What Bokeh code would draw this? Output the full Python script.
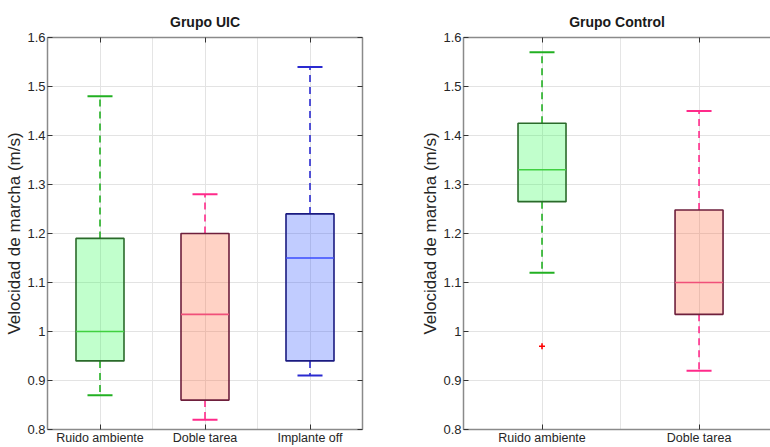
from bokeh.plotting import figure
from bokeh.layouts import row
from bokeh.models import (Range1d, LinearAxis, Grid, FixedTicker, CustomJSTickFormatter,
                          ColumnDataSource, CustomLabelingPolicy)
from bokeh.embed import file_html
from bokeh.resources import INLINE

# ---------------- data ----------------
uic_categories = ["Ruido ambiente", "Doble tarea", "Implante off"]
uic_low = [0.87, 0.82, 0.91]
uic_q1 = [0.94, 0.86, 0.94]
uic_median = [1.00, 1.035, 1.15]
uic_q3 = [1.19, 1.20, 1.24]
uic_high = [1.48, 1.28, 1.54]

ctrl_categories = ["Ruido ambiente", "Doble tarea"]
ctrl_low = [1.12, 0.92]
ctrl_q1 = [1.265, 1.035]
ctrl_median = [1.33, 1.10]
ctrl_q3 = [1.425, 1.248]
ctrl_high = [1.57, 1.45]
ctrl_outlier_cat = ["Ruido ambiente"]
ctrl_outlier_val = [0.97]

y_ticks = [0.8, 0.9, 1.0, 1.1, 1.2, 1.3, 1.4, 1.5, 1.6]
y_label = "Velocidad de marcha (m/s)"

# ---------------- styles ----------------
FONT = "Liberation Sans"
styles = {
    "Ruido ambiente": dict(fill="#33ff55", edge="#2a6a2a", med="#40d040", whisk="#22b022"),
    "Doble tarea": dict(fill="#ff6a40", edge="#6e1f3c", med="#f0507a", whisk="#ff2a8a"),
    "Implante off": dict(fill="#3355ff", edge="#1a1a80", med="#3a4cff", whisk="#2a2ad0"),
}
SPINE = "#8a8a8a"
H = 447
TOP = 37
BOTTOM = 17


def panel(title, cats, low, q1, med, q3, high, width, bl, br, x_end, right_axis,
          box_px, out_cat=None, out_val=None):
    frame_w = width - bl - br
    px_per_unit = frame_w / (x_end - 0.5)
    bw = box_px / px_per_unit
    cw = 25 / px_per_unit
    xs = [i + 1 for i in range(len(cats))]
    p = figure(width=width, height=H, x_range=Range1d(0.5, x_end), y_range=Range1d(0.8, 1.6),
               output_backend="svg", toolbar_location=None,
               x_axis_location=None, y_axis_location=None,
               min_border_left=bl, min_border_right=br, min_border_top=TOP,
               min_border_bottom=BOTTOM)
    p.outline_line_color = None
    p.background_fill_color = "white"
    p.border_fill_color = "white"
    p.title.text = title
    p.title.align = "center"
    p.title.text_font = FONT
    p.title.text_font_size = "14px"
    p.title.text_font_style = "bold"
    p.title.text_color = "#1a1a1a"
    p.title.standoff = 8

    xt = FixedTicker(ticks=xs)
    yt = FixedTicker(ticks=y_ticks)
    fmt = CustomJSTickFormatter(code="return String(Math.round(tick*10)/10);")
    hide = CustomLabelingPolicy(code="return new Set();")

    def style_axis(ax, size, labels=True):
        ax.axis_line_color = SPINE
        ax.axis_line_width = 1.5
        ax.major_tick_in = 5
        ax.major_tick_out = 0
        ax.major_tick_line_color = "#333333"
        ax.minor_tick_line_color = None
        ax.major_label_text_font = FONT
        ax.major_label_text_font_size = size
        ax.major_label_text_color = "#262626"
        ax.major_label_standoff = 2 if labels else 0
        if not labels:
            ax.major_label_policy = hide

    bottom = LinearAxis(ticker=xt, major_label_overrides={x: c for x, c in zip(xs, cats)})
    style_axis(bottom, "12.5px")
    bottom.major_label_standoff = 1
    left = LinearAxis(ticker=yt, formatter=fmt, axis_label=y_label)
    style_axis(left, "13px")
    left.axis_label_text_font = FONT
    left.axis_label_text_font_size = "17px"
    left.axis_label_text_font_style = "normal"
    left.axis_label_text_color = "#262626"
    left.axis_label_standoff = 0
    top = LinearAxis(ticker=xt, formatter=fmt)
    style_axis(top, "1px", labels=False)
    p.add_layout(bottom, "below")
    p.add_layout(left, "left")
    p.add_layout(top, "above")
    if right_axis:
        right = LinearAxis(ticker=yt, formatter=fmt)
        style_axis(right, "1px", labels=False)
        p.add_layout(right, "right")

    p.add_layout(Grid(dimension=0, ticker=xt, grid_line_color="#e3e3e3", grid_line_width=1))
    p.add_layout(Grid(dimension=1, ticker=yt, grid_line_color="#e3e3e3", grid_line_width=1))

    src = ColumnDataSource(dict(
        x=xs, low=low, q1=q1, med=med, q3=q3, high=high,
        fill=[styles[c]["fill"] for c in cats],
        edge=[styles[c]["edge"] for c in cats],
        medc=[styles[c]["med"] for c in cats],
        whisk=[styles[c]["whisk"] for c in cats],
        bl=[x - bw / 2 for x in xs], br=[x + bw / 2 for x in xs],
        cl=[x - cw / 2 for x in xs], cr=[x + cw / 2 for x in xs],
    ))
    # whiskers
    p.segment(x0="x", y0="q3", x1="x", y1="high", source=src, line_color="whisk",
              line_width=1.6, line_dash="7 5")
    p.segment(x0="x", y0="q1", x1="x", y1="low", source=src, line_color="whisk",
              line_width=1.6, line_dash="7 5")
    # caps
    p.segment(x0="cl", y0="high", x1="cr", y1="high", source=src, line_color="whisk", line_width=2)
    p.segment(x0="cl", y0="low", x1="cr", y1="low", source=src, line_color="whisk", line_width=2)
    # boxes
    p.quad(left="bl", right="br", bottom="q1", top="q3", source=src,
           fill_color="fill", fill_alpha=0.3, line_color="edge", line_width=1.6)
    # medians
    p.segment(x0="bl", y0="med", x1="br", y1="med", source=src, line_color="medc", line_width=1.6)

    if out_cat:
        ox = [cats.index(c) + 1 for c in out_cat]
        p.scatter(x=ox, y=out_val, marker="cross", size=6, line_color="#ff0000", line_width=1.6)
    return p


p1 = panel("Grupo UIC", uic_categories, uic_low, uic_q1, uic_median, uic_q3, uic_high,
           width=400, bl=47, br=38, x_end=3.5, right_axis=True, box_px=48)
p2 = panel("Grupo Control", ctrl_categories, ctrl_low, ctrl_q1, ctrl_median, ctrl_q3, ctrl_high,
           width=370, bl=63, br=0, x_end=2.455, right_axis=False, box_px=48,
           out_cat=ctrl_outlier_cat, out_val=ctrl_outlier_val)
p2.title.offset = 6

layout = row(p1, p2)
open("out.html", "w").write(file_html(layout, INLINE))
